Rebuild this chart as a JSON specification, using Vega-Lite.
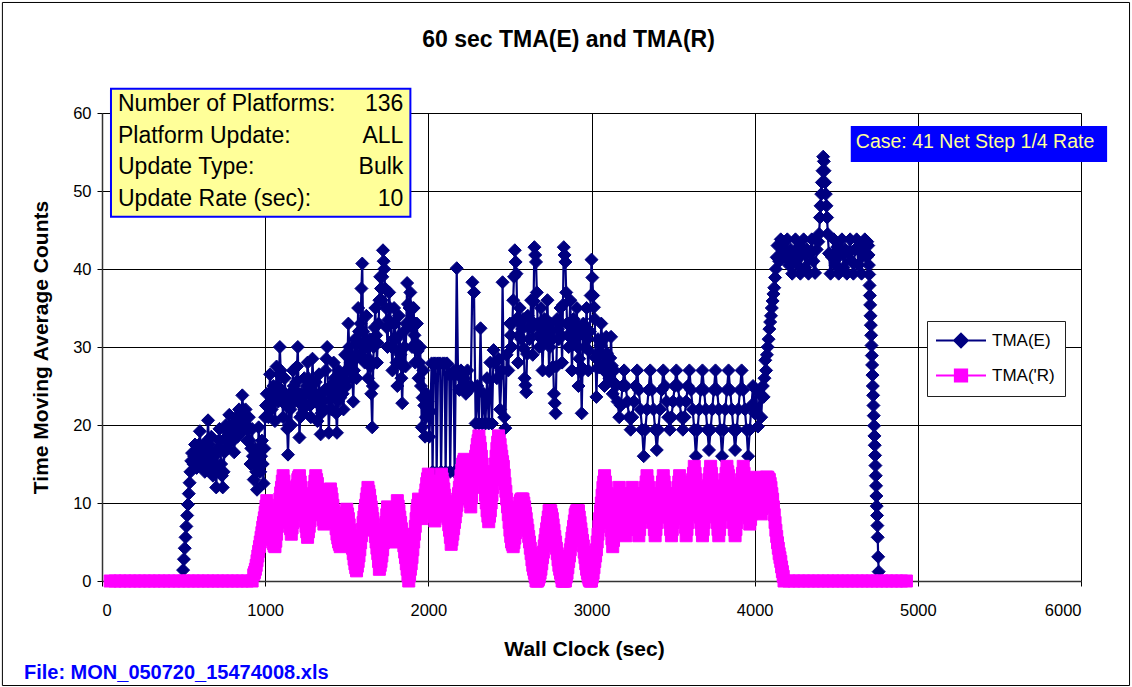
{
"$schema": "https://vega.github.io/schema/vega-lite/v6.json",
"width": 979, "height": 468,
"autosize": {"type": "none"},
"padding": {"left": 102, "top": 113, "right": 51, "bottom": 106},
"background": "white",
"title": {"text": "60 sec TMA(E) and TMA(R)", "font": "Liberation Sans", "fontSize": 23, "fontWeight": "bold", "color": "black", "anchor": "middle", "frame": "group", "baseline": "alphabetic", "offset": -68, "dx": -23},
"config": {
  "font": "Liberation Sans",
  "view": {"stroke": "#808080", "strokeWidth": 1},
  "axis": {"grid": true, "gridColor": "black", "gridWidth": 1, "gridOpacity": 1, "labelColor": "black", "labelFontSize": 16.5, "tickColor": "black", "tickSize": 5, "domainColor": "#333333", "domainWidth": 1.5, "titleColor": "black", "titleFontSize": 21, "titleFontWeight": "bold"},
  "axisX": {"labelPadding": 16, "titlePadding": 20, "labelAngle": 0, "titleX": 482},
  "axisY": {"labelPadding": 6, "titlePadding": 21}
},
"datasets": {
"E": [
{"t":497,"v":1.4},{"t":502,"v":2.8},{"t":507,"v":4.2},{"t":512,"v":5.6},{"t":517,"v":7},{"t":522,"v":8.4},{"t":527,"v":9.8},{"t":532,"v":11.2},{"t":537,"v":12.6},{"t":542,"v":14},{"t":547,"v":15.4},{"t":552,"v":16.4},
{"t":560,"v":15},{"t":570,"v":17.5},{"t":580,"v":14.5},{"t":590,"v":16},{"t":600,"v":19.2},{"t":610,"v":15.5},{"t":620,"v":17},{"t":630,"v":14},{"t":640,"v":16.5},{"t":650,"v":20.6},{"t":660,"v":15},{"t":670,"v":18.5},{"t":680,"v":13.5},{"t":690,"v":16},{"t":700,"v":12},{"t":710,"v":17},{"t":720,"v":19.5},{"t":730,"v":15},{"t":740,"v":12},{"t":750,"v":16.5},{"t":760,"v":20},{"t":770,"v":17},{"t":780,"v":21.3},{"t":790,"v":18},{"t":800,"v":20},{"t":810,"v":16.5},{"t":820,"v":21},{"t":830,"v":18.5},{"t":840,"v":22},{"t":850,"v":19},{"t":860,"v":23.8},{"t":870,"v":20.5},{"t":880,"v":22},{"t":890,"v":18},{"t":900,"v":21},{"t":910,"v":15},{"t":920,"v":19.5},{"t":930,"v":13},{"t":940,"v":17},{"t":950,"v":11.7},{"t":960,"v":19.7},{"t":970,"v":14},{"t":980,"v":18},{"t":990,"v":12.5},{"t":1000,"v":21},
{"t":1010,"v":24},{"t":1020,"v":21},{"t":1030,"v":26.5},{"t":1040,"v":22},{"t":1050,"v":25},{"t":1060,"v":20.5},{"t":1070,"v":27.5},{"t":1080,"v":23},{"t":1090,"v":30},{"t":1100,"v":24.5},{"t":1110,"v":21},{"t":1120,"v":26},{"t":1130,"v":22.5},{"t":1140,"v":16.2},{"t":1150,"v":24},{"t":1160,"v":20},{"t":1170,"v":27},{"t":1180,"v":23},{"t":1190,"v":25.5},{"t":1200,"v":30},{"t":1210,"v":18.4},{"t":1220,"v":24},{"t":1230,"v":21.5},{"t":1240,"v":26},{"t":1250,"v":22.5},{"t":1260,"v":28},{"t":1270,"v":24},{"t":1280,"v":21},{"t":1290,"v":28.5},{"t":1300,"v":23},{"t":1310,"v":25.5},{"t":1320,"v":20.5},{"t":1330,"v":26.5},{"t":1340,"v":18.8},{"t":1350,"v":24},{"t":1360,"v":22},{"t":1370,"v":27},{"t":1380,"v":30},{"t":1390,"v":19},{"t":1400,"v":25},{"t":1410,"v":22},{"t":1420,"v":28},{"t":1430,"v":24},{"t":1440,"v":19},{"t":1450,"v":27},{"t":1460,"v":23.5},{"t":1470,"v":26},{"t":1480,"v":22},{"t":1490,"v":29},{"t":1500,"v":25},
{"t":1510,"v":33},{"t":1520,"v":27},{"t":1530,"v":29},{"t":1540,"v":23},{"t":1550,"v":31},{"t":1560,"v":26},{"t":1570,"v":35},{"t":1580,"v":29},{"t":1590,"v":37.5},{"t":1595,"v":40.7},{"t":1600,"v":32},{"t":1610,"v":28},{"t":1620,"v":34},{"t":1630,"v":26},{"t":1640,"v":31},{"t":1650,"v":24},{"t":1656,"v":19.7},{"t":1665,"v":30},{"t":1675,"v":35},{"t":1685,"v":28},{"t":1695,"v":33},{"t":1705,"v":39},{"t":1715,"v":36},{"t":1722,"v":42.4},{"t":1730,"v":40},{"t":1740,"v":35},{"t":1750,"v":30},{"t":1760,"v":37},{"t":1770,"v":33},{"t":1780,"v":27},{"t":1790,"v":35},{"t":1800,"v":31},{"t":1810,"v":25},{"t":1820,"v":34},{"t":1830,"v":29},{"t":1840,"v":22.8},{"t":1850,"v":32},{"t":1860,"v":27.5},{"t":1870,"v":38.2},{"t":1880,"v":33},{"t":1890,"v":37},{"t":1900,"v":30},{"t":1910,"v":35},{"t":1920,"v":28},{"t":1930,"v":33},{"t":1940,"v":26},{"t":1950,"v":30},{"t":1960,"v":19.7},{"t":1970,"v":27},{"t":1980,"v":18.5},{"t":1990,"v":24},
{"t":2000,"v":22},{"t":2006,"v":18.5},{"t":2013,"v":21.7},{"t":2020,"v":27.9},{"t":2026,"v":14},{"t":2034,"v":27.9},{"t":2045,"v":27.9},{"t":2051,"v":13.9},{"t":2060,"v":27.9},{"t":2072,"v":27.9},{"t":2078,"v":14},{"t":2088,"v":27.9},{"t":2100,"v":27.9},{"t":2106,"v":14},{"t":2115,"v":27.9},{"t":2128,"v":26.5},{"t":2134,"v":14},{"t":2142,"v":26.5},{"t":2155,"v":27},{"t":2161,"v":14},{"t":2168,"v":26.5},{"t":2174,"v":40.1},{"t":2182,"v":26.5},{"t":2190,"v":24.5},{"t":2200,"v":27},{"t":2210,"v":25},{"t":2220,"v":26},{"t":2230,"v":24},{"t":2240,"v":27},{"t":2250,"v":24.5},{"t":2260,"v":25},{"t":2270,"v":38.3},{"t":2280,"v":37},{"t":2290,"v":20.2},{"t":2300,"v":25},{"t":2310,"v":20.2},{"t":2320,"v":32.4},{"t":2330,"v":20.2},{"t":2340,"v":24},{"t":2350,"v":20.2},{"t":2360,"v":26},{"t":2370,"v":20.2},{"t":2380,"v":28},{"t":2390,"v":20.2},{"t":2400,"v":29.6},{"t":2410,"v":28},{"t":2420,"v":26},{"t":2430,"v":28.5},{"t":2440,"v":22},{"t":2450,"v":27},{"t":2455,"v":38.3},{"t":2465,"v":21},{"t":2472,"v":19.6},{"t":2480,"v":29},{"t":2490,"v":27},
{"t":2500,"v":33},{"t":2510,"v":30},{"t":2520,"v":36},{"t":2530,"v":42.4},{"t":2540,"v":39.4},{"t":2550,"v":28},{"t":2560,"v":35},{"t":2570,"v":31},{"t":2580,"v":33.6},{"t":2590,"v":26},{"t":2600,"v":24.2},{"t":2610,"v":34},{"t":2620,"v":31},{"t":2630,"v":36},{"t":2640,"v":29},{"t":2650,"v":42.8},{"t":2660,"v":40.9},{"t":2670,"v":33},{"t":2680,"v":30},{"t":2690,"v":35},{"t":2700,"v":27},{"t":2710,"v":33.6},{"t":2720,"v":31},{"t":2730,"v":36},{"t":2740,"v":26.9},{"t":2750,"v":33},{"t":2760,"v":31},{"t":2770,"v":24},{"t":2780,"v":21.5},{"t":2790,"v":33.6},{"t":2800,"v":31},{"t":2810,"v":35},{"t":2820,"v":28},{"t":2830,"v":42.8},{"t":2840,"v":40.9},{"t":2850,"v":33},{"t":2860,"v":30},{"t":2870,"v":36},{"t":2880,"v":27},{"t":2890,"v":33.6},{"t":2900,"v":31},{"t":2910,"v":35},{"t":2920,"v":25},{"t":2930,"v":32},{"t":2940,"v":21.5},{"t":2950,"v":33},{"t":2960,"v":30},{"t":2970,"v":35},{"t":2980,"v":27},{"t":2990,"v":32},{"t":3000,"v":41.2},{"t":3010,"v":36.6},{"t":3020,"v":33.6},{"t":3030,"v":23.6},{"t":3040,"v":31},{"t":3050,"v":27.4},{"t":3060,"v":33},{"t":3070,"v":29},{"t":3080,"v":25},{"t":3090,"v":31.3},{"t":3100,"v":27},{"t":3110,"v":26},{"t":3120,"v":31.3},{"t":3130,"v":24},
{"t":3140,"v":27},{"t":3150,"v":25},{"t":3160,"v":23},{"t":3170,"v":21},{"t":3180,"v":22.5},{"t":3190,"v":25},
{"t":3200,"v":27},{"t":3210,"v":25},{"t":3220,"v":23},{"t":3230,"v":21},{"t":3240,"v":19.4},{"t":3250,"v":21},{"t":3260,"v":23},{"t":3270,"v":25},
{"t":3280,"v":27},{"t":3290,"v":24.5},{"t":3300,"v":22},{"t":3310,"v":19.4},{"t":3320,"v":16},{"t":3330,"v":19.4},{"t":3340,"v":22},{"t":3350,"v":24.5},
{"t":3360,"v":27},{"t":3370,"v":24.5},{"t":3380,"v":22},{"t":3390,"v":19.4},{"t":3400,"v":16.8},{"t":3410,"v":19.4},{"t":3420,"v":22},{"t":3430,"v":24.5},
{"t":3440,"v":27},{"t":3450,"v":25},{"t":3460,"v":23},{"t":3470,"v":21},{"t":3480,"v":19.4},{"t":3490,"v":21},{"t":3500,"v":23},{"t":3510,"v":25},
{"t":3520,"v":27},{"t":3530,"v":25},{"t":3540,"v":23},{"t":3550,"v":21},{"t":3560,"v":19.4},{"t":3570,"v":21},{"t":3580,"v":23},{"t":3590,"v":25},
{"t":3600,"v":27},{"t":3610,"v":24.5},{"t":3620,"v":22},{"t":3630,"v":19.4},{"t":3640,"v":16},{"t":3650,"v":19.4},{"t":3660,"v":22},{"t":3670,"v":24.5},
{"t":3680,"v":27},{"t":3690,"v":24.5},{"t":3700,"v":22},{"t":3710,"v":19.4},{"t":3720,"v":16.8},{"t":3730,"v":19.4},{"t":3740,"v":22},{"t":3750,"v":24.5},
{"t":3760,"v":27},{"t":3770,"v":24.5},{"t":3780,"v":22},{"t":3790,"v":19.4},{"t":3800,"v":16},{"t":3810,"v":19.4},{"t":3820,"v":22},{"t":3830,"v":24.5},
{"t":3840,"v":27},{"t":3850,"v":24.5},{"t":3860,"v":22},{"t":3870,"v":19.4},{"t":3880,"v":16.8},{"t":3890,"v":19.4},{"t":3900,"v":22},{"t":3910,"v":24.5},
{"t":3920,"v":27},{"t":3930,"v":24.5},{"t":3940,"v":22},{"t":3950,"v":19.4},{"t":3960,"v":16},
{"t":3970,"v":19.4},{"t":3980,"v":22.5},{"t":3990,"v":25},{"t":4000,"v":21.5},{"t":4010,"v":24.5},{"t":4020,"v":19.8},{"t":4030,"v":24},{"t":4040,"v":21},{"t":4050,"v":25},{"t":4055,"v":23.6},{"t":4060,"v":26},{"t":4065,"v":28.3},{"t":4070,"v":27},{"t":4075,"v":29},{"t":4080,"v":30},{"t":4085,"v":31},{"t":4090,"v":32.3},{"t":4095,"v":33.2},{"t":4100,"v":34},{"t":4105,"v":35},{"t":4110,"v":35.9},{"t":4115,"v":36.8},{"t":4120,"v":37.6},{"t":4125,"v":38.9},{"t":4130,"v":40},{"t":4135,"v":41.5},{"t":4140,"v":43},
{"t":4150,"v":41},{"t":4160,"v":43.8},{"t":4170,"v":42},{"t":4180,"v":43.5},{"t":4190,"v":41.5},{"t":4200,"v":43.8},{"t":4210,"v":40.5},{"t":4220,"v":42.5},{"t":4230,"v":39.4},{"t":4240,"v":41.5},{"t":4250,"v":43.8},{"t":4260,"v":40.5},{"t":4270,"v":42.8},{"t":4280,"v":39.4},{"t":4290,"v":41.8},{"t":4300,"v":43.8},{"t":4310,"v":40.2},{"t":4320,"v":42.5},{"t":4330,"v":39.4},{"t":4340,"v":42},{"t":4350,"v":43.8},{"t":4360,"v":41},{"t":4370,"v":39.5},{"t":4380,"v":42.5},{"t":4390,"v":43.5},
{"t":4395,"v":44.5},{"t":4400,"v":46.6},{"t":4404,"v":48.1},{"t":4408,"v":49.6},{"t":4412,"v":51.1},{"t":4416,"v":52.6},{"t":4420,"v":54.4},{"t":4424,"v":53.8},{"t":4428,"v":52.6},{"t":4432,"v":51.1},{"t":4436,"v":49.6},{"t":4440,"v":48.1},{"t":4444,"v":46.6},{"t":4448,"v":44.5},
{"t":4455,"v":42},{"t":4465,"v":39.4},{"t":4475,"v":41.5},{"t":4485,"v":43.8},{"t":4495,"v":40.5},{"t":4505,"v":42.8},{"t":4515,"v":39.4},{"t":4525,"v":41.8},{"t":4535,"v":43.8},{"t":4545,"v":40.2},{"t":4555,"v":42.5},{"t":4565,"v":39.4},{"t":4575,"v":42},{"t":4585,"v":43.8},{"t":4595,"v":41},{"t":4605,"v":39.4},{"t":4615,"v":42.5},{"t":4625,"v":43.8},{"t":4635,"v":40.5},{"t":4645,"v":42.8},{"t":4655,"v":39.4},{"t":4665,"v":41.8},{"t":4675,"v":43.8},{"t":4685,"v":41.5},{"t":4690,"v":43.5},
{"t":4696,"v":43},{"t":4698,"v":41.8},{"t":4700,"v":40.5},{"t":4702,"v":39.3},{"t":4704,"v":37.9},{"t":4706,"v":36.6},{"t":4708,"v":35.4},{"t":4710,"v":34},{"t":4712,"v":32.8},{"t":4714,"v":31.5},{"t":4716,"v":30.2},{"t":4718,"v":28.9},{"t":4720,"v":27.7},{"t":4722,"v":26.4},{"t":4724,"v":25},{"t":4726,"v":23.8},{"t":4728,"v":22.5},{"t":4730,"v":21.2},{"t":4732,"v":19.9},{"t":4734,"v":18.6},{"t":4736,"v":17.4},{"t":4738,"v":16.1},{"t":4740,"v":14.8},{"t":4742,"v":13.5},{"t":4744,"v":12.2},{"t":4746,"v":10.9},{"t":4748,"v":9.6},{"t":4750,"v":8.4},{"t":4752,"v":7.1},{"t":4754,"v":5.6},{"t":4757,"v":3.1},{"t":4760,"v":1.2},
{"t":565,"v":16},{"t":575,"v":15.5},{"t":585,"v":17},{"t":595,"v":17.5},{"t":605,"v":17},{"t":615,"v":16},{"t":625,"v":15.5},{"t":635,"v":15},{"t":645,"v":18},{"t":655,"v":17.5},{"t":665,"v":16.5},{"t":675,"v":15.5},{"t":685,"v":14.5},{"t":695,"v":14},{"t":705,"v":14.5},{"t":715,"v":18},{"t":725,"v":17},{"t":735,"v":13.5},{"t":745,"v":14},{"t":755,"v":18},{"t":765,"v":18.5},{"t":775,"v":19},{"t":785,"v":19.5},{"t":795,"v":19},{"t":805,"v":18},{"t":815,"v":19},{"t":825,"v":20},{"t":835,"v":20},{"t":845,"v":20.5},{"t":855,"v":21},{"t":865,"v":22},{"t":875,"v":21},{"t":885,"v":20},{"t":895,"v":19.5},{"t":905,"v":18},{"t":915,"v":17},{"t":925,"v":16},{"t":935,"v":15},{"t":945,"v":14},{"t":955,"v":15.5},{"t":965,"v":17},{"t":975,"v":16},{"t":985,"v":15},{"t":995,"v":17},
{"t":1005,"v":22.5},{"t":1015,"v":22.5},{"t":1025,"v":24},{"t":1035,"v":24},{"t":1045,"v":23.5},{"t":1055,"v":23},{"t":1065,"v":24},{"t":1075,"v":25},{"t":1085,"v":26.5},{"t":1095,"v":27},{"t":1105,"v":23},{"t":1115,"v":23.5},{"t":1125,"v":24},{"t":1135,"v":19.5},{"t":1145,"v":20},{"t":1155,"v":22},{"t":1165,"v":23.5},{"t":1175,"v":25},{"t":1185,"v":24},{"t":1195,"v":27.5},{"t":1205,"v":24},{"t":1215,"v":21},{"t":1225,"v":22.5},{"t":1235,"v":23.5},{"t":1245,"v":24},{"t":1255,"v":25},{"t":1265,"v":26},{"t":1275,"v":22.5},{"t":1285,"v":24.5},{"t":1295,"v":25.5},{"t":1305,"v":24},{"t":1315,"v":23},{"t":1325,"v":23.5},{"t":1335,"v":22.5},{"t":1345,"v":21.5},{"t":1355,"v":23},{"t":1365,"v":24.5},{"t":1375,"v":28.5},{"t":1385,"v":24.5},{"t":1395,"v":22},{"t":1405,"v":23.5},{"t":1415,"v":25},{"t":1425,"v":26},{"t":1435,"v":21.5},{"t":1445,"v":23},{"t":1455,"v":25},{"t":1465,"v":24.5},{"t":1475,"v":24},{"t":1485,"v":25.5},{"t":1495,"v":27},
{"t":1505,"v":29},{"t":1515,"v":30},{"t":1525,"v":28},{"t":1535,"v":26},{"t":1545,"v":27},{"t":1555,"v":28.5},{"t":1565,"v":30.5},{"t":1575,"v":32},{"t":1585,"v":33},{"t":1605,"v":30},{"t":1615,"v":31},{"t":1625,"v":30},{"t":1635,"v":28.5},{"t":1645,"v":27.5},{"t":1660,"v":25},{"t":1670,"v":32.5},{"t":1680,"v":31.5},{"t":1690,"v":30.5},{"t":1700,"v":36},{"t":1710,"v":37.5},{"t":1718,"v":39},{"t":1726,"v":41},{"t":1735,"v":37.5},{"t":1745,"v":32.5},{"t":1755,"v":33.5},{"t":1765,"v":35},{"t":1775,"v":30},{"t":1785,"v":31},{"t":1795,"v":33},{"t":1805,"v":28},{"t":1815,"v":29.5},{"t":1825,"v":31.5},{"t":1835,"v":26},{"t":1845,"v":27.5},{"t":1855,"v":30},{"t":1865,"v":33},{"t":1875,"v":35.5},{"t":1885,"v":35},{"t":1895,"v":33.5},{"t":1905,"v":32.5},{"t":1915,"v":31.5},{"t":1925,"v":30.5},{"t":1935,"v":29.5},{"t":1945,"v":28},{"t":1955,"v":25},{"t":1965,"v":23.5},{"t":1975,"v":22.5},{"t":1985,"v":21},{"t":1995,"v":23},
{"t":2505,"v":31.5},{"t":2515,"v":33},{"t":2525,"v":39},{"t":2535,"v":40.9},{"t":2545,"v":33.7},{"t":2555,"v":31.5},{"t":2565,"v":33},{"t":2575,"v":32.3},{"t":2585,"v":29.8},{"t":2595,"v":25.1},{"t":2605,"v":29.1},{"t":2615,"v":32.5},{"t":2625,"v":33.5},{"t":2635,"v":32.5},{"t":2645,"v":35.9},{"t":2655,"v":41.8},{"t":2665,"v":37},{"t":2675,"v":31.5},{"t":2685,"v":32.5},{"t":2695,"v":31},{"t":2705,"v":30.3},{"t":2715,"v":32.3},{"t":2725,"v":33.5},{"t":2735,"v":31.5},{"t":2745,"v":30},{"t":2755,"v":32},{"t":2765,"v":27.5},{"t":2775,"v":22.8},{"t":2785,"v":27.5},{"t":2795,"v":32.3},{"t":2805,"v":33},{"t":2815,"v":31.5},{"t":2825,"v":35.4},{"t":2835,"v":41.8},{"t":2845,"v":37},{"t":2855,"v":31.5},{"t":2865,"v":33},{"t":2875,"v":31.5},{"t":2885,"v":30.3},{"t":2895,"v":32.3},{"t":2905,"v":33},{"t":2915,"v":30},{"t":2925,"v":28.5},{"t":2935,"v":26.8},{"t":2945,"v":27.3},{"t":2955,"v":31.5},{"t":2965,"v":32.5},{"t":2975,"v":31},{"t":2985,"v":29.5},{"t":2995,"v":36.6},{"t":3005,"v":38.9},{"t":3015,"v":35.1},{"t":3025,"v":28.6},{"t":3035,"v":27.3},{"t":3045,"v":29.2},{"t":3055,"v":30.2},{"t":3065,"v":31},{"t":3075,"v":27},{"t":3085,"v":28.1},{"t":3095,"v":29.2},{"t":3105,"v":26.5},{"t":3115,"v":28.6},{"t":3125,"v":27.6},{"t":3135,"v":25.5}
],
"R": [
{"t":50,"v":0},{"t":80,"v":0},{"t":110,"v":0},{"t":140,"v":0},{"t":170,"v":0},{"t":200,"v":0},{"t":230,"v":0},{"t":260,"v":0},{"t":290,"v":0},{"t":320,"v":0},{"t":350,"v":0},{"t":380,"v":0},{"t":410,"v":0},{"t":440,"v":0},{"t":470,"v":0},{"t":500,"v":0},{"t":530,"v":0},{"t":560,"v":0},{"t":590,"v":0},{"t":620,"v":0},{"t":650,"v":0},{"t":680,"v":0},{"t":710,"v":0},{"t":740,"v":0},{"t":770,"v":0},{"t":800,"v":0},{"t":830,"v":0},{"t":860,"v":0},{"t":890,"v":0},{"t":920,"v":0},
{"t":930,"v":0.8},{"t":940,"v":1.5},{"t":950,"v":2.6},{"t":960,"v":3.8},{"t":970,"v":5},{"t":980,"v":6.2},{"t":990,"v":7.5},{"t":1000,"v":8.8},{"t":1010,"v":10.3},
{"t":1020,"v":9},{"t":1030,"v":7.5},{"t":1040,"v":6},{"t":1050,"v":4.8},{"t":1060,"v":4.4},{"t":1070,"v":6},{"t":1080,"v":8},{"t":1090,"v":10.5},{"t":1100,"v":12},{"t":1110,"v":13.5},
{"t":1120,"v":12},{"t":1130,"v":10.5},{"t":1140,"v":9},{"t":1150,"v":7.5},{"t":1160,"v":6},{"t":1170,"v":7.5},{"t":1180,"v":9.5},{"t":1190,"v":11.5},{"t":1200,"v":13},{"t":1210,"v":13.5},
{"t":1220,"v":12},{"t":1230,"v":10},{"t":1240,"v":8.5},{"t":1250,"v":7},{"t":1260,"v":5.6},{"t":1270,"v":7},{"t":1280,"v":8.5},{"t":1290,"v":10.5},{"t":1300,"v":12},{"t":1310,"v":13.5},
{"t":1320,"v":12.5},{"t":1330,"v":11},{"t":1340,"v":9.5},{"t":1350,"v":8.5},{"t":1360,"v":7.3},{"t":1370,"v":8.5},{"t":1380,"v":10},{"t":1390,"v":11},{"t":1400,"v":11.8},
{"t":1410,"v":10.5},{"t":1420,"v":9},{"t":1430,"v":7.5},{"t":1440,"v":6},{"t":1450,"v":5},{"t":1460,"v":4.4},{"t":1470,"v":5.5},{"t":1480,"v":7},{"t":1490,"v":8.2},{"t":1500,"v":9.2},
{"t":1510,"v":8},{"t":1520,"v":6.5},{"t":1530,"v":5},{"t":1540,"v":3.5},{"t":1550,"v":2.2},{"t":1560,"v":1.3},{"t":1570,"v":2.5},{"t":1580,"v":4},{"t":1590,"v":5.8},{"t":1600,"v":7.5},{"t":1610,"v":9},{"t":1620,"v":10.5},{"t":1630,"v":12},{"t":1640,"v":11},
{"t":1650,"v":9.5},{"t":1660,"v":8},{"t":1670,"v":6.5},{"t":1680,"v":5},{"t":1690,"v":3.5},{"t":1700,"v":1.5},{"t":1710,"v":2.5},{"t":1720,"v":4},{"t":1730,"v":5.8},{"t":1740,"v":7.5},{"t":1750,"v":9.5},
{"t":1760,"v":8},{"t":1770,"v":6.5},{"t":1780,"v":5},{"t":1790,"v":6.5},{"t":1800,"v":8.5},{"t":1810,"v":10.3},
{"t":1820,"v":9},{"t":1830,"v":7.5},{"t":1840,"v":6},{"t":1850,"v":4.5},{"t":1860,"v":3},{"t":1870,"v":1.5},{"t":1880,"v":0},{"t":1890,"v":1.5},{"t":1900,"v":3},{"t":1910,"v":5},{"t":1920,"v":7},{"t":1930,"v":9},{"t":1940,"v":10.5},
{"t":1950,"v":9.5},{"t":1960,"v":8},{"t":1970,"v":9.5},{"t":1980,"v":11},{"t":1990,"v":12.5},{"t":2000,"v":13.7},
{"t":2010,"v":12},{"t":2020,"v":10.5},{"t":2030,"v":9},{"t":2040,"v":7.7},{"t":2050,"v":9},{"t":2060,"v":10.5},{"t":2070,"v":12},{"t":2080,"v":13.7},
{"t":2090,"v":12.6},{"t":2100,"v":11},{"t":2110,"v":9.5},{"t":2120,"v":8},{"t":2130,"v":6.5},{"t":2140,"v":4.7},{"t":2150,"v":6},{"t":2160,"v":7.5},{"t":2170,"v":9},{"t":2180,"v":10.5},{"t":2190,"v":12},{"t":2200,"v":13.5},{"t":2210,"v":15},{"t":2220,"v":15.6},
{"t":2230,"v":14},{"t":2240,"v":12.5},{"t":2250,"v":11},{"t":2260,"v":9.5},{"t":2270,"v":12},{"t":2280,"v":14},{"t":2290,"v":16},{"t":2300,"v":17.5},{"t":2310,"v":18.6},{"t":2320,"v":17},{"t":2330,"v":15},{"t":2340,"v":13},{"t":2350,"v":11},{"t":2360,"v":9},{"t":2370,"v":7.6},{"t":2380,"v":9},{"t":2390,"v":11},{"t":2400,"v":13},{"t":2410,"v":15},{"t":2420,"v":17},{"t":2430,"v":18.6},{"t":2440,"v":17.5},{"t":2450,"v":16},{"t":2460,"v":14.7},
{"t":2470,"v":12.5},{"t":2480,"v":10.5},{"t":2490,"v":8.5},{"t":2500,"v":6.5},{"t":2510,"v":5},{"t":2520,"v":4.4},{"t":2530,"v":5.5},{"t":2540,"v":7},{"t":2550,"v":8.5},{"t":2560,"v":10},{"t":2570,"v":10.5},{"t":2580,"v":10.5},{"t":2590,"v":9.5},{"t":2600,"v":8},{"t":2610,"v":6.5},{"t":2620,"v":5},{"t":2630,"v":3.5},{"t":2640,"v":2},{"t":2650,"v":1},{"t":2660,"v":0},{"t":2670,"v":0},{"t":2680,"v":0.5},{"t":2690,"v":1.5},{"t":2700,"v":3},{"t":2710,"v":4.5},{"t":2720,"v":6},{"t":2730,"v":7.5},{"t":2740,"v":9},{"t":2750,"v":9},{"t":2760,"v":8},{"t":2770,"v":6.5},{"t":2780,"v":5},{"t":2790,"v":3.5},{"t":2800,"v":2},{"t":2810,"v":1},{"t":2820,"v":0},{"t":2830,"v":0},{"t":2840,"v":0},{"t":2850,"v":1},{"t":2860,"v":2.5},{"t":2870,"v":4},{"t":2880,"v":5.5},{"t":2890,"v":7},{"t":2900,"v":8.5},{"t":2910,"v":9},{"t":2920,"v":9},{"t":2930,"v":7.5},{"t":2940,"v":6},{"t":2950,"v":4.5},{"t":2960,"v":3},{"t":2970,"v":1.5},{"t":2980,"v":0.5},{"t":2990,"v":0},{"t":3000,"v":0},{"t":3010,"v":1},{"t":3020,"v":2.5},{"t":3030,"v":4},{"t":3040,"v":6},{"t":3050,"v":8},{"t":3060,"v":10},{"t":3070,"v":12},{"t":3080,"v":13.5},
{"t":3090,"v":12},{"t":3100,"v":10.5},{"t":3110,"v":8.5},{"t":3120,"v":6.5},{"t":3130,"v":4.4},{"t":3140,"v":6},{"t":3150,"v":8},{"t":3160,"v":10},{"t":3170,"v":12},
{"t":3180,"v":10.5},{"t":3190,"v":9},{"t":3200,"v":7.5},{"t":3210,"v":5.8},{"t":3220,"v":7.5},{"t":3230,"v":9},{"t":3240,"v":10.5},{"t":3250,"v":12},
{"t":3260,"v":10.5},{"t":3270,"v":9},{"t":3280,"v":7.5},{"t":3290,"v":5.8},{"t":3300,"v":7.5},{"t":3310,"v":9},{"t":3320,"v":10.5},{"t":3330,"v":12},{"t":3340,"v":13.5},
{"t":3350,"v":12},{"t":3360,"v":10.5},{"t":3370,"v":9},{"t":3380,"v":7.5},{"t":3390,"v":5.8},{"t":3400,"v":7.5},{"t":3410,"v":9},{"t":3420,"v":10.5},{"t":3430,"v":12},{"t":3440,"v":13.5},
{"t":3450,"v":12},{"t":3460,"v":10.5},{"t":3470,"v":9},{"t":3480,"v":7.5},{"t":3490,"v":5.8},{"t":3500,"v":7.5},{"t":3510,"v":9},{"t":3520,"v":10.5},{"t":3530,"v":12},{"t":3540,"v":13.5},
{"t":3550,"v":12},{"t":3560,"v":10},{"t":3570,"v":8},{"t":3580,"v":5.8},{"t":3590,"v":7.5},{"t":3600,"v":9.5},{"t":3610,"v":11.5},{"t":3620,"v":13},{"t":3630,"v":14.7},
{"t":3640,"v":13},{"t":3650,"v":11},{"t":3660,"v":9},{"t":3670,"v":7.5},{"t":3680,"v":5.8},{"t":3690,"v":7.5},{"t":3700,"v":9.5},{"t":3710,"v":11.5},{"t":3720,"v":13},{"t":3730,"v":14.7},
{"t":3740,"v":13},{"t":3750,"v":11},{"t":3760,"v":9},{"t":3770,"v":7.5},{"t":3780,"v":5.8},{"t":3790,"v":7.5},{"t":3800,"v":9.5},{"t":3810,"v":11.5},{"t":3820,"v":13},{"t":3830,"v":14.7},
{"t":3840,"v":13.5},{"t":3850,"v":11.5},{"t":3860,"v":9.5},{"t":3870,"v":7.5},{"t":3880,"v":5.8},{"t":3890,"v":7.5},{"t":3900,"v":9.5},{"t":3910,"v":11.5},{"t":3920,"v":13},{"t":3930,"v":14.7},
{"t":3940,"v":13},{"t":3950,"v":11},{"t":3960,"v":9},{"t":3970,"v":7.3},{"t":3980,"v":8.6},{"t":3990,"v":10},{"t":4000,"v":11.5},{"t":4010,"v":13.3},{"t":4020,"v":12},{"t":4030,"v":10.5},{"t":4040,"v":8.6},{"t":4050,"v":10},{"t":4060,"v":11.5},{"t":4070,"v":13.3},{"t":4080,"v":13.3},{"t":4090,"v":13},
{"t":4100,"v":12},{"t":4110,"v":10.5},{"t":4120,"v":8.5},{"t":4130,"v":6.5},{"t":4140,"v":4.9},{"t":4150,"v":3.5},{"t":4160,"v":2.5},{"t":4170,"v":1.2},{"t":4180,"v":0},
{"t":4210,"v":0},{"t":4240,"v":0},{"t":4270,"v":0},{"t":4300,"v":0},{"t":4330,"v":0},{"t":4360,"v":0},{"t":4390,"v":0},{"t":4420,"v":0},{"t":4450,"v":0},{"t":4480,"v":0},{"t":4510,"v":0},{"t":4540,"v":0},{"t":4570,"v":0},{"t":4600,"v":0},{"t":4630,"v":0},{"t":4660,"v":0},{"t":4690,"v":0},{"t":4720,"v":0},{"t":4750,"v":0},{"t":4780,"v":0},{"t":4810,"v":0},{"t":4840,"v":0},{"t":4870,"v":0},{"t":4900,"v":0},{"t":4930,"v":0},
{"t":935,"v":1.1},{"t":945,"v":2},{"t":955,"v":3.2},{"t":965,"v":4.4},{"t":975,"v":5.6},{"t":985,"v":6.9},{"t":995,"v":8.1},{"t":1005,"v":9.6},
{"t":1015,"v":9.7},{"t":1025,"v":8.2},{"t":1035,"v":6.7},{"t":1045,"v":5.3},{"t":1055,"v":4.5},{"t":1065,"v":5.1},{"t":1075,"v":7},{"t":1085,"v":9.2},{"t":1095,"v":11.3},{"t":1105,"v":12.8},
{"t":1115,"v":12.8},{"t":1125,"v":11.2},{"t":1135,"v":9.7},{"t":1145,"v":8.2},{"t":1155,"v":6.7},{"t":1165,"v":6.8},{"t":1175,"v":8.5},{"t":1185,"v":10.5},{"t":1195,"v":12.2},{"t":1205,"v":13.3},
{"t":1215,"v":12.7},{"t":1225,"v":11},{"t":1235,"v":9.2},{"t":1245,"v":7.7},{"t":1255,"v":6.3},{"t":1265,"v":6.3},{"t":1275,"v":7.7},{"t":1285,"v":9.5},{"t":1295,"v":11.2},{"t":1305,"v":12.8},
{"t":1315,"v":13},{"t":1325,"v":11.7},{"t":1335,"v":10.2},{"t":1345,"v":9},{"t":1355,"v":7.9},{"t":1365,"v":7.9},{"t":1375,"v":9.2},{"t":1385,"v":10.5},{"t":1395,"v":11.4},
{"t":1405,"v":11.2},{"t":1415,"v":9.7},{"t":1425,"v":8.2},{"t":1435,"v":6.7},{"t":1445,"v":5.5},{"t":1455,"v":4.7},{"t":1465,"v":4.9},{"t":1475,"v":6.2},{"t":1485,"v":7.6},{"t":1495,"v":8.7},
{"t":1505,"v":8.6},{"t":1515,"v":7.2},{"t":1525,"v":5.7},{"t":1535,"v":4.2},{"t":1545,"v":2.8},{"t":1555,"v":1.7},{"t":1565,"v":1.9},{"t":1575,"v":3.2},{"t":1585,"v":4.9},{"t":1595,"v":6.6},{"t":1605,"v":8.2},{"t":1615,"v":9.7},{"t":1625,"v":11.2},{"t":1635,"v":11.5},
{"t":1645,"v":10.2},{"t":1655,"v":8.7},{"t":1665,"v":7.2},{"t":1675,"v":5.7},{"t":1685,"v":4.2},{"t":1695,"v":2.5},{"t":1705,"v":2},{"t":1715,"v":3.2},{"t":1725,"v":4.9},{"t":1735,"v":6.6},{"t":1745,"v":8.5},
{"t":1755,"v":8.7},{"t":1765,"v":7.2},{"t":1775,"v":5.7},{"t":1785,"v":5.7},{"t":1795,"v":7.5},{"t":1805,"v":9.4},
{"t":1815,"v":9.6},{"t":1825,"v":8.2},{"t":1835,"v":6.7},{"t":1845,"v":5.2},{"t":1855,"v":3.7},{"t":1865,"v":2.2},{"t":1875,"v":0.7},{"t":1885,"v":0.7},{"t":1895,"v":2.2},{"t":1905,"v":4},{"t":1915,"v":6},{"t":1925,"v":8},{"t":1935,"v":9.7},
{"t":1945,"v":10},{"t":1955,"v":8.7},{"t":1965,"v":8.7},{"t":1975,"v":10.2},{"t":1985,"v":11.7},{"t":1995,"v":13.1},
{"t":2005,"v":12.8},{"t":2015,"v":11.2},{"t":2025,"v":9.7},{"t":2035,"v":8.3},{"t":2045,"v":8.3},{"t":2055,"v":9.7},{"t":2065,"v":11.2},{"t":2075,"v":12.8},
{"t":2085,"v":13.1},{"t":2095,"v":11.8},{"t":2105,"v":10.2},{"t":2115,"v":8.7},{"t":2125,"v":7.2},{"t":2135,"v":5.6},{"t":2145,"v":5.3},{"t":2155,"v":6.7},{"t":2165,"v":8.2},{"t":2175,"v":9.7},{"t":2185,"v":11.2},{"t":2195,"v":12.7},{"t":2205,"v":14.2},{"t":2215,"v":15.3},
{"t":2225,"v":14.8},{"t":2235,"v":13.2},{"t":2245,"v":11.7},{"t":2255,"v":10.2},{"t":2265,"v":10.7},{"t":2275,"v":13},{"t":2285,"v":15},{"t":2295,"v":16.7},{"t":2305,"v":18},{"t":2315,"v":17.8},{"t":2325,"v":16},{"t":2335,"v":14},{"t":2345,"v":12},{"t":2355,"v":10},{"t":2365,"v":8.3},{"t":2375,"v":8.3},{"t":2385,"v":10},{"t":2395,"v":12},{"t":2405,"v":14},{"t":2415,"v":16},{"t":2425,"v":17.8},{"t":2435,"v":18},{"t":2445,"v":16.7},{"t":2455,"v":15.3},
{"t":2465,"v":13.6},{"t":2475,"v":11.5},{"t":2485,"v":9.5},{"t":2495,"v":7.5},{"t":2505,"v":5.7},{"t":2515,"v":4.7},{"t":2525,"v":4.9},{"t":2535,"v":6.2},{"t":2545,"v":7.7},{"t":2555,"v":9.2},{"t":2565,"v":10.3},{"t":2575,"v":10.5},{"t":2585,"v":10},{"t":2595,"v":8.7},{"t":2605,"v":7.2},{"t":2615,"v":5.7},{"t":2625,"v":4.2},{"t":2635,"v":2.7},{"t":2645,"v":1.5},{"t":2655,"v":0.5},{"t":2665,"v":0},{"t":2675,"v":0.2},{"t":2685,"v":1},{"t":2695,"v":2.2},{"t":2705,"v":3.7},{"t":2715,"v":5.2},{"t":2725,"v":6.7},{"t":2735,"v":8.2},{"t":2745,"v":9},{"t":2755,"v":8.5},{"t":2765,"v":7.2},{"t":2775,"v":5.7},{"t":2785,"v":4.2},{"t":2795,"v":2.7},{"t":2805,"v":1.5},{"t":2815,"v":0.5},{"t":2825,"v":0},{"t":2835,"v":0},{"t":2845,"v":0.5},{"t":2855,"v":1.7},{"t":2865,"v":3.2},{"t":2875,"v":4.7},{"t":2885,"v":6.2},{"t":2895,"v":7.7},{"t":2905,"v":8.8},{"t":2915,"v":9},{"t":2925,"v":8.2},{"t":2935,"v":6.7},{"t":2945,"v":5.2},{"t":2955,"v":3.7},{"t":2965,"v":2.2},{"t":2975,"v":1},{"t":2985,"v":0.2},{"t":2995,"v":0},{"t":3005,"v":0.5},{"t":3015,"v":1.7},{"t":3025,"v":3.2},{"t":3035,"v":5},{"t":3045,"v":7},{"t":3055,"v":9},{"t":3065,"v":11},{"t":3075,"v":12.7},
{"t":3085,"v":12.7},{"t":3095,"v":11.2},{"t":3105,"v":9.5},{"t":3115,"v":7.5},{"t":3125,"v":5.4},{"t":3135,"v":5.2},{"t":3145,"v":7},{"t":3155,"v":9},{"t":3165,"v":11},
{"t":3175,"v":11.2},{"t":3185,"v":9.7},{"t":3195,"v":8.2},{"t":3205,"v":6.6},{"t":3215,"v":6.6},{"t":3225,"v":8.2},{"t":3235,"v":9.7},{"t":3245,"v":11.2},
{"t":3255,"v":11.2},{"t":3265,"v":9.7},{"t":3275,"v":8.2},{"t":3285,"v":6.6},{"t":3295,"v":6.6},{"t":3305,"v":8.2},{"t":3315,"v":9.7},{"t":3325,"v":11.2},{"t":3335,"v":12.7},
{"t":3345,"v":12.7},{"t":3355,"v":11.2},{"t":3365,"v":9.7},{"t":3375,"v":8.2},{"t":3385,"v":6.6},{"t":3395,"v":6.6},{"t":3405,"v":8.2},{"t":3415,"v":9.7},{"t":3425,"v":11.2},{"t":3435,"v":12.7},
{"t":3445,"v":12.7},{"t":3455,"v":11.2},{"t":3465,"v":9.7},{"t":3475,"v":8.2},{"t":3485,"v":6.6},{"t":3495,"v":6.6},{"t":3505,"v":8.2},{"t":3515,"v":9.7},{"t":3525,"v":11.2},{"t":3535,"v":12.7},
{"t":3545,"v":12.7},{"t":3555,"v":11},{"t":3565,"v":9},{"t":3575,"v":6.9},{"t":3585,"v":6.6},{"t":3595,"v":8.5},{"t":3605,"v":10.5},{"t":3615,"v":12.2},{"t":3625,"v":13.8},
{"t":3635,"v":13.8},{"t":3645,"v":12},{"t":3655,"v":10},{"t":3665,"v":8.2},{"t":3675,"v":6.6},{"t":3685,"v":6.6},{"t":3695,"v":8.5},{"t":3705,"v":10.5},{"t":3715,"v":12.2},{"t":3725,"v":13.8},
{"t":3735,"v":13.8},{"t":3745,"v":12},{"t":3755,"v":10},{"t":3765,"v":8.2},{"t":3775,"v":6.6},{"t":3785,"v":6.6},{"t":3795,"v":8.5},{"t":3805,"v":10.5},{"t":3815,"v":12.2},{"t":3825,"v":13.8},
{"t":3835,"v":14},{"t":3845,"v":12.5},{"t":3855,"v":10.5},{"t":3865,"v":8.5},{"t":3875,"v":6.6},{"t":3885,"v":6.6},{"t":3895,"v":8.5},{"t":3905,"v":10.5},{"t":3915,"v":12.2},{"t":3925,"v":13.8},
{"t":3935,"v":13.8},{"t":3945,"v":12},{"t":3955,"v":10},{"t":3965,"v":8.1},{"t":3975,"v":7.9},{"t":3985,"v":9.3},{"t":3995,"v":10.7},{"t":4005,"v":12.4},{"t":4015,"v":12.6},{"t":4025,"v":11.2},{"t":4035,"v":9.5},{"t":4045,"v":9.3},{"t":4055,"v":10.7},{"t":4065,"v":12.4},{"t":4075,"v":13.3},{"t":4085,"v":13.1},
{"t":4095,"v":12.5},{"t":4105,"v":11.2},{"t":4115,"v":9.5},{"t":4125,"v":7.5},{"t":4135,"v":5.7},{"t":4145,"v":4.2},{"t":4155,"v":3},{"t":4165,"v":1.8},{"t":4175,"v":0.6}
],
"one": [{}]
},
"layer": [
{"data": {"name": "E"}, "mark": {"type": "line", "strokeWidth": 2.2},
 "encoding": {
  "x": {"field": "t", "type": "quantitative", "scale": {"domain": [0, 6000]}, "axis": {"title": "Wall Clock (sec)", "values": [0,1000,2000,3000,4000,5000,6000], "format": "d"}},
  "y": {"field": "v", "type": "quantitative", "scale": {"domain": [0, 60]}, "axis": {"title": "Time Moving Average Counts", "values": [0,10,20,30,40,50,60]}},
  "color": {"datum": "TMA(E)", "scale": {"domain": ["TMA(E)", "TMA('R)"], "range": ["#000080", "#FF00FF"]},
   "legend": {"title": null, "orient": "none", "legendX": 825, "legendY": 208, "strokeColor": "#202020", "fillColor": "white", "padding": 10, "symbolSize": 289, "rowPadding": 13, "symbolOffset": 14.5, "labelOffset": 21.5, "labelFontSize": 17, "labelColor": "black", "labelFont": "Liberation Sans",
    "encode": {"symbols": {"update": {
      "shape": {"signal": "datum.value === 'TMA(E)' ? 'M-2.94,0L2.94,0M0,-0.8L0.8,0L0,0.8L-0.8,0Z' : 'M-2.94,0L2.94,0M-0.72,-0.72L0.72,-0.72L0.72,0.72L-0.72,0.72Z'"},
      "fill": {"signal": "datum.value === 'TMA(E)' ? '#000080' : '#FF00FF'"},
      "stroke": {"signal": "datum.value === 'TMA(E)' ? '#000080' : '#FF00FF'"},
      "strokeWidth": {"value": 2},
      "opacity": {"value": 1},
      "fillOpacity": {"value": 1}
    }}}}
  }
 }},
{"data": {"name": "E"}, "mark": {"type": "point", "shape": "diamond", "filled": true, "size": 169, "opacity": 1, "stroke": "#000080", "strokeWidth": 1},
 "encoding": {
  "x": {"field": "t", "type": "quantitative"},
  "y": {"field": "v", "type": "quantitative"},
  "color": {"datum": "TMA(E)"}
 }},
{"data": {"name": "R"}, "mark": {"type": "line", "strokeWidth": 2.5},
 "encoding": {
  "x": {"field": "t", "type": "quantitative"},
  "y": {"field": "v", "type": "quantitative"},
  "color": {"datum": "TMA('R)"}
 }},
{"data": {"name": "R"}, "mark": {"type": "point", "shape": "square", "filled": true, "size": 144, "opacity": 1, "stroke": "#FF00FF", "strokeWidth": 1},
 "encoding": {
  "x": {"field": "t", "type": "quantitative"},
  "y": {"field": "v", "type": "quantitative"},
  "color": {"datum": "TMA('R)"}
 }},
{"data": {"name": "one"}, "mark": {"type": "rect", "fill": "#FFFF99", "stroke": "#0000FF", "strokeWidth": 2, "clip": false},
 "encoding": {"x": {"datum": 55, "type": "quantitative"}, "x2": {"datum": 1890}, "y": {"datum": 63.1, "type": "quantitative"}, "y2": {"datum": 46.7}}},
{"data": {"name": "one"}, "mark": {"type": "text", "text": ["Number of Platforms:", "Platform Update:", "Update Type:", "Update Rate (sec):"], "align": "left", "baseline": "middle", "lineHeight": 31.7, "fontSize": 23, "font": "Liberation Sans", "color": "black", "clip": false},
 "encoding": {"x": {"datum": 98, "type": "quantitative"}, "y": {"datum": 61.15, "type": "quantitative"}}},
{"data": {"name": "one"}, "mark": {"type": "text", "text": ["136", "ALL", "Bulk", "10"], "align": "right", "baseline": "middle", "lineHeight": 31.7, "fontSize": 23, "font": "Liberation Sans", "color": "black", "clip": false},
 "encoding": {"x": {"datum": 1847, "type": "quantitative"}, "y": {"datum": 61.15, "type": "quantitative"}}},
{"data": {"name": "one"}, "mark": {"type": "rect", "fill": "#0000FF", "clip": false},
 "encoding": {"x": {"datum": 4589, "type": "quantitative"}, "x2": {"datum": 6160}, "y": {"datum": 58.33, "type": "quantitative"}, "y2": {"datum": 53.72}}},
{"data": {"name": "one"}, "mark": {"type": "text", "text": "Case: 41 Net Step 1/4 Rate", "align": "left", "baseline": "middle", "fontSize": 19.5, "font": "Liberation Sans", "color": "#FFFF99", "clip": false},
 "encoding": {"x": {"datum": 4620, "type": "quantitative"}, "y": {"datum": 56.28, "type": "quantitative"}}},
{"data": {"name": "one"}, "mark": {"type": "text", "text": "File: MON_050720_15474008.xls", "align": "left", "baseline": "alphabetic", "fontSize": 20, "fontWeight": "bold", "font": "Liberation Sans", "color": "#0000FF", "clip": false},
 "encoding": {"x": {"datum": -478.5, "type": "quantitative"}, "y": {"datum": -12.56, "type": "quantitative"}}},
{"data": {"name": "one"}, "mark": {"type": "rect", "fillOpacity": 0, "stroke": "black", "strokeWidth": 1, "clip": false},
 "encoding": {"x": {"datum": -610.4, "type": "quantitative"}, "x2": {"datum": 6297.5}, "y": {"datum": 74.17, "type": "quantitative"}, "y2": {"datum": -13.4}}}
]
}
